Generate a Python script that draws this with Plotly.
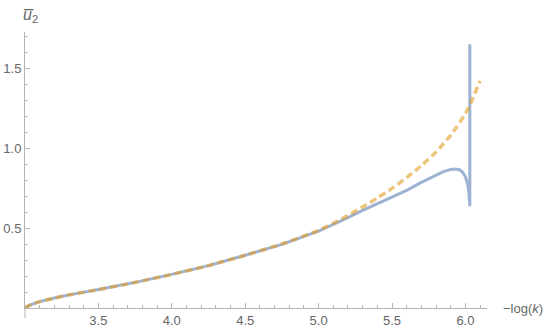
import plotly.graph_objects as go

# Blue solid curve (u-bar_2 exact)
x_blue = [3.0, 3.02, 3.05, 3.1, 3.2, 3.3, 3.5, 3.75, 4.0, 4.25, 4.5, 4.75, 5.0, 5.1, 5.2, 5.3, 5.4, 5.5,
          5.6, 5.7, 5.8, 5.85, 5.9, 5.93, 5.96, 5.98, 6.0, 6.015, 6.025, 6.03, 6.03]
y_blue = [0.0, 0.012, 0.024, 0.04, 0.062, 0.082, 0.115, 0.16, 0.21, 0.265, 0.33, 0.398, 0.48, 0.52, 0.565,
          0.61, 0.65, 0.69, 0.735, 0.785, 0.83, 0.852, 0.866, 0.869, 0.864, 0.85, 0.82, 0.775, 0.71, 0.636, 1.648]

# Orange dashed curve (approximation)
x_orange = [3.0, 3.02, 3.05, 3.1, 3.2, 3.3, 3.5, 3.75, 4.0, 4.25, 4.5, 4.75, 5.0, 5.1, 5.2, 5.3, 5.4, 5.5,
            5.6, 5.7, 5.8, 5.9, 6.0, 6.05, 6.1]
y_orange = [0.0, 0.012, 0.024, 0.04, 0.062, 0.082, 0.115, 0.16, 0.21, 0.265, 0.33, 0.4, 0.485, 0.53, 0.578,
            0.632, 0.688, 0.748, 0.815, 0.89, 0.975, 1.08, 1.215, 1.31, 1.42]

x_ticks = [3.5, 4.0, 4.5, 5.0, 5.5, 6.0]
y_ticks = [0.5, 1.0, 1.5]

BLUE = "rgba(94,129,181,0.6)"
ORANGE = "rgba(225,156,36,0.6)"
GRAY = "#b4b4b4"
TXT = "#666666"
FONT = "Liberation Sans"

fig = go.Figure()
fig.add_trace(go.Scatter(x=x_blue, y=y_blue, mode="lines", hoverinfo="skip",
                         line=dict(color=BLUE, width=3), showlegend=False))
fig.add_trace(go.Scatter(x=x_orange, y=y_orange, mode="lines", line_shape="spline", hoverinfo="skip",
                         line=dict(color=ORANGE, width=3.5, dash="7px,4px", smoothing=0.6),
                         showlegend=False))

fig.update_layout(
    width=550, height=335,
    margin=dict(l=25, r=63, t=32, b=27, autoexpand=False),
    plot_bgcolor="white", paper_bgcolor="white",
    font=dict(family=FONT, size=13, color=TXT),
    xaxis=dict(range=[3.0, 6.147], showgrid=False, zeroline=False, automargin=False,
               showline=True, linecolor=GRAY, linewidth=1,
               tickmode="array", tickvals=x_ticks, ticktext=[f"{v:.1f}" for v in x_ticks],
               ticks="inside", ticklen=5, tickcolor=GRAY, tickwidth=1,
               minor=dict(tick0=3.0, dtick=0.1, ticks="inside", ticklen=3, tickcolor=GRAY),
               tickfont=dict(family=FONT, size=13, color=TXT)),
    yaxis=dict(range=[0, 1.725], showgrid=False, zeroline=False, automargin=False,
               showline=True, linecolor=GRAY, linewidth=1,
               tickmode="array", tickvals=y_ticks, ticktext=[f"{v:.1f}" for v in y_ticks],
               ticks="inside", ticklen=5, tickcolor=GRAY, tickwidth=1,
               minor=dict(tick0=0.0, dtick=0.1, ticks="inside", ticklen=3, tickcolor=GRAY),
               tickfont=dict(family=FONT, size=13, color=TXT)),
    shapes=[dict(type="line", xref="paper", yref="paper", x0=0, x1=0, y0=0, y1=-0.036,
                 line=dict(color=GRAY, width=1))],
    annotations=[
        dict(text="<i>u\u0305</i><sub>2</sub>", xref="paper", yref="paper",
             x=0.0, y=1.0, xanchor="left", yanchor="bottom", xshift=-4, yshift=5,
             showarrow=False, font=dict(family=FONT, size=16, color=TXT)),
        dict(text="\u2212log(<i>k</i>)", xref="paper", yref="paper",
             x=1.0, y=0.0, xanchor="left", yanchor="middle", xshift=14, yshift=0,
             showarrow=False, font=dict(family=FONT, size=13, color=TXT)),
    ],
)

fig.write_html("out.html", config={"displayModeBar": False},
               post_script="document.body.style.margin='0';document.body.style.overflow='hidden';")
